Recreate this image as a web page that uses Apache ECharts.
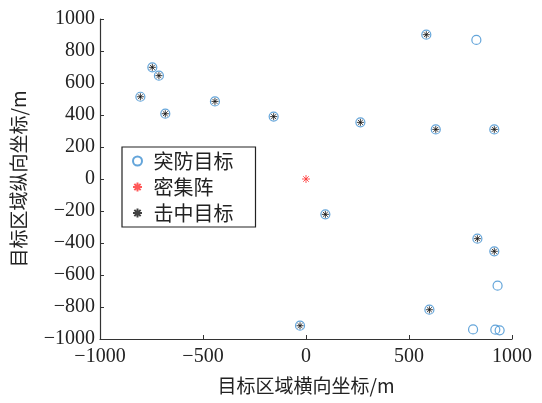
<!DOCTYPE html>
<html>
<head>
<meta charset="utf-8">
<script src="https://cdn.jsdelivr.net/npm/echarts@6/dist/echarts.min.js"></script>
<style>
  html, body { margin: 0; padding: 0; background: #fff; }
  #chart { width: 542px; height: 403px; }
</style>
</head>
<body>
<div id="chart"></div>
<script>
// hit targets (black asterisks, also breakthrough targets)
const hitX = [-746, -714, -804, -683, -442, -157, 584, 264, 630, 914, 94, 832, 914, 599, -29];
const hitY = [698, 646, 514, 408, 485, 390, 902, 354, 310, 310, -221, -373, -452, -817, -917];
// breakthrough targets that were not hit
const missX = [827, 930, 811, 919, 940];
const missY = [869, -667, -940, -942, -946];
// dense array position
const clusterX = [0];
const clusterY = [0];

const xTicks = [-1000, -500, 0, 500, 1000];
const yTicks = [-1000, -800, -600, -400, -200, 0, 200, 400, 600, 800, 1000];

const zip = (xs, ys) => xs.map((x, i) => [x, ys[i]]);
const targetPts = zip(hitX, hitY).concat(zip(missX, missY));

const star = 'path://M0,-1L0,1M-1,0L1,0M-0.7,-0.7L0.7,0.7M-0.7,0.7L0.7,-0.7';
const serif = '"Liberation Serif", "Noto Sans CJK SC", serif';
const cjk = '"Noto Sans CJK SC", "Liberation Serif", serif';

const chart = echarts.init(document.getElementById('chart'));
chart.setOption({
  animation: false,
  backgroundColor: '#fff',
  grid: { left: 100, right: 30, top: 19, bottom: 64, outerBoundsMode: 'none' },
  xAxis: {
    type: 'value', min: -1000, max: 1000, interval: 500,
    name: '目标区域横向坐标/m', nameLocation: 'middle', nameGap: 37,
    nameTextStyle: { fontFamily: cjk, fontSize: 19, color: '#222' },
    axisLine: { onZero: false, lineStyle: { color: '#333', width: 1.2 } },
    axisTick: { inside: true, length: 4, lineStyle: { color: '#333' } },
    axisLabel: { fontFamily: serif, fontSize: 20, color: '#222', margin: 8,
      formatter: v => xTicks.includes(v) ? String(v).replace('-', '\u2212') : '' },
    splitLine: { show: false }
  },
  yAxis: {
    type: 'value', min: -1000, max: 1000, interval: 200,
    name: '目标区域纵向坐标/m', nameLocation: 'middle', nameGap: 72,
    nameTextStyle: { fontFamily: cjk, fontSize: 19, color: '#222' },
    axisLine: { onZero: false, lineStyle: { color: '#333', width: 1.2 } },
    axisTick: { inside: true, length: 4, lineStyle: { color: '#333' } },
    axisLabel: { fontFamily: serif, fontSize: 20, color: '#222', margin: 5,
      formatter: v => yTicks.includes(v) ? String(v).replace('-', '\u2212') : '' },
    splitLine: { show: false }
  },
  legend: {
    orient: 'vertical', left: 122, top: 147,
    padding: [4, 22, 4, 10],
    itemGap: 6, itemWidth: 14, itemHeight: 9,
    borderColor: '#222', borderWidth: 1.2, borderRadius: 0,
    backgroundColor: '#fff',
    textStyle: { fontFamily: cjk, fontSize: 20, color: '#222', padding: [0, 0, 0, 4] },
    data: ['突防目标', '密集阵', '击中目标']
  },
  series: [
    {
      name: '突防目标', type: 'scatter', data: targetPts,
      symbol: 'circle', symbolSize: 9,
      itemStyle: { color: 'transparent', borderColor: '#3d8fd1', borderWidth: 1.2 }
    },
    {
      name: '密集阵', type: 'scatter', data: zip(clusterX, clusterY),
      symbol: star, symbolSize: 8,
      itemStyle: { color: 'transparent', borderColor: '#ff3030', borderWidth: 1 }
    },
    {
      name: '击中目标', type: 'scatter', data: zip(hitX, hitY),
      symbol: star, symbolSize: 7,
      itemStyle: { color: 'transparent', borderColor: '#111', borderWidth: 1 }
    }
  ]
});
</script>
</body>
</html>
